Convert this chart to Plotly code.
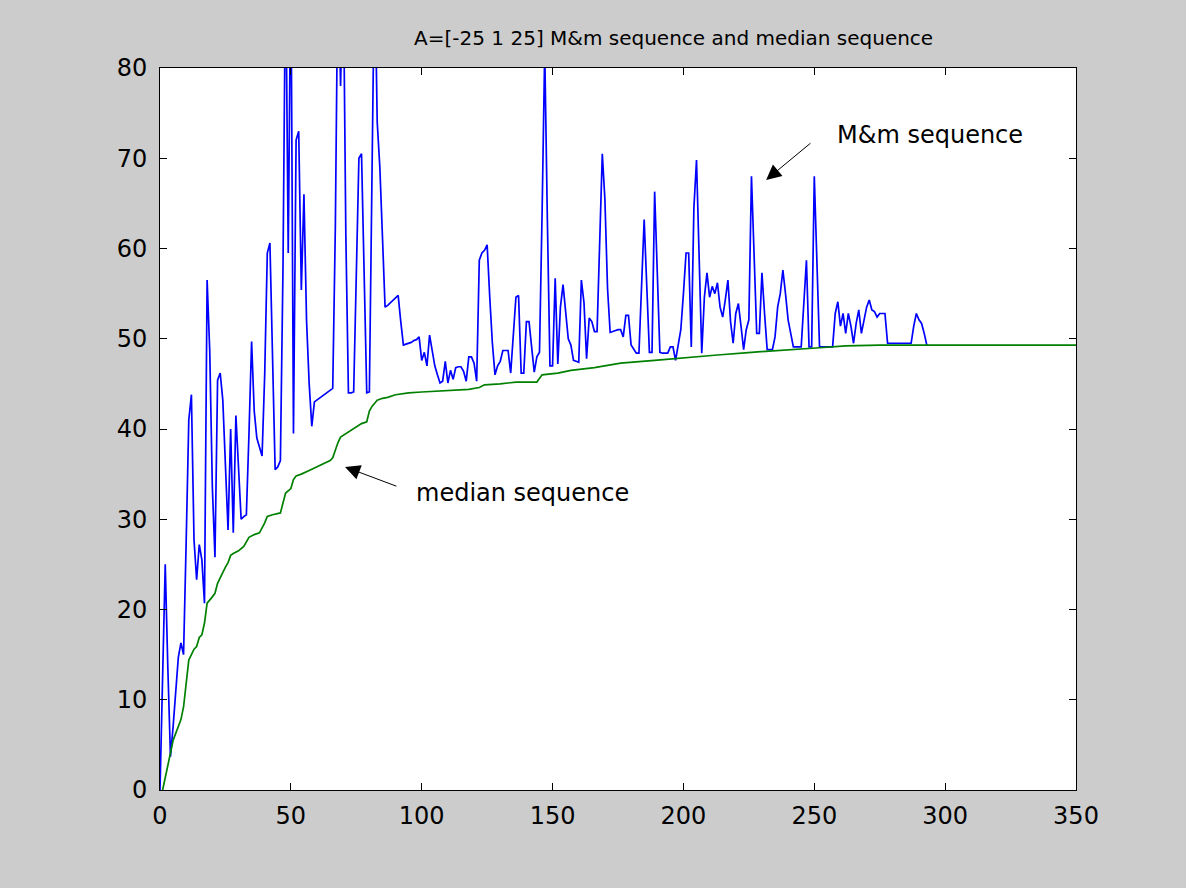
import plotly.graph_objects as go

# M&m sequence values (index n = 0..293)
mm_values = [
    0, 13, 25, 13.5, 3.7, 7, 11, 14.7, 16.3, 15,
    27.5, 41, 43.8, 27.7, 23.3, 27.2, 25.5, 20.7, 56.5, 48.7,
    33.6, 25.8, 45.4, 46.2, 43.2, 35.8, 28.8, 40, 28.5, 41.5,
    35.5, 30, 30.3, 30.5, 39.5, 49.7, 42, 39, 38, 37,
    46, 59.5, 60.6, 48, 35.5, 35.8, 36.5, 58, 92, 59.5,
    92, 39.5, 72, 73, 55.4, 66, 52, 45, 40.3, 43,
    43.2, 43.5, 43.7, 43.9, 44.1, 44.3, 44.5, 62.4, 92, 78,
    92, 61.7, 44, 44, 44.1, 57, 70, 70.5, 57, 44,
    44.1, 62, 92, 74, 69, 61.3, 53.5, 53.7, 54, 54.2,
    54.5, 54.8, 51.9, 49.3, 49.4, 49.5, 49.6, 49.8, 49.9, 50.2,
    47.6, 48.5, 47, 50.4, 48.5, 47, 46, 45.1, 45.3, 47.5,
    45.1, 46.5, 45.5, 46.8, 46.9, 46.9, 46.4, 45.3, 48, 48,
    47.3, 45.3, 58.7, 59.5, 59.8, 60.4, 54.6, 49.5, 46, 47,
    47.5, 48.7, 48.7, 48.7, 46.2, 50.4, 54.6, 54.8, 46.2, 46.2,
    51.9, 51.9, 49, 46.3, 48, 48.5, 64, 82, 63.4, 47,
    47, 56.7, 47.2, 53.5, 56, 52.8, 50, 49.3, 47.6, 47.5,
    47.4, 56.5, 54, 47.8, 52.3, 51.9, 50.8, 50.8, 60.2, 70.5,
    65.4, 55.6, 50.7, 50.8, 50.9, 51, 51, 50.2, 52.6, 52.6,
    49.3, 48.8, 48.4, 48.4, 55.8, 63.2, 55.8, 48.5, 48.5, 66.3,
    57.4, 48.5, 48.4, 48.4, 48.4, 49.1, 49.1, 47.6, 49.4, 51,
    55, 59.5, 59.5, 49.1, 64.5, 69.8, 59.1, 48.4, 54.6, 57.3,
    54.6, 55.8, 55, 56.2, 53.5, 52.4, 54.3, 56.5, 51.9, 49.5,
    52.8, 53.9, 51.4, 48.8, 51, 52.1, 68, 59.5, 50.6, 50.6,
    57.3, 52.8, 48.8, 48.8, 48.8, 50.2, 53.5, 55, 57.6, 55,
    52.1, 50.6, 49.1, 49.1, 49.1, 49.1, 53.9, 58.7, 49.1, 49.1,
    68, 58.3, 49.1, 49.1, 49.1, 49.1, 49.1, 49.1, 52.8, 54.1,
    51.4, 52.8, 50.6, 52.8, 51.4, 49.5, 51.7, 53.2, 50.6, 52.1,
    53.5, 54.3, 53.2, 53, 52.4, 52.8, 52.8, 52.8, 49.5, 49.5,
    49.5, 49.5, 49.5, 49.5, 49.5, 49.5, 49.5, 49.5, 51.4, 52.8,
    52.1, 51.7, 50.6, 49.3,
]
mm_n = list(range(len(mm_values)))

# Median sequence (read at breakpoints)
med_n = [1, 2, 3, 4, 5, 6, 7, 8, 9, 10, 11, 12, 13, 14, 15, 16, 17, 18, 19, 20,
         21, 22, 23, 24, 25, 26, 27, 28, 30, 32, 33, 34, 36, 38, 40, 41, 43, 46, 47, 48,
         50, 51, 52, 54, 57, 60, 63, 65, 66, 67, 68, 69, 71, 73, 75, 77, 79, 80, 81, 83,
         85, 87, 90, 95, 100, 105, 110, 118, 122, 124, 130, 136, 144, 146, 152, 157, 166, 176, 189, 196,
         204, 213, 226, 235, 252, 262, 275, 350]
med_v = [0, 1.5, 2.6, 4.1, 5.5, 6.3, 7, 7.8, 9.2, 12.2, 14.4, 15, 15.6, 15.9, 16.9, 17.2, 18.5, 20.7, 21, 21.4,
         21.8, 22.9, 23.5, 24.2, 24.7, 25.2, 26, 26.2, 26.5, 27, 27.5, 28, 28.3, 28.5, 29.6, 30.3, 30.5, 30.7, 31.8, 32.9,
         33.4, 34.4, 34.8, 35, 35.4, 35.8, 36.2, 36.5, 36.8, 37.7, 38.5, 39.1, 39.5, 39.8, 40.2, 40.6, 40.8, 42, 42.5, 43.2,
         43.4, 43.5, 43.8, 44, 44.1, 44.2, 44.3, 44.4, 44.6, 44.9, 45.0, 45.2, 45.2, 46, 46.2, 46.5, 46.8, 47.3, 47.6, 47.8,
         48, 48.2, 48.5, 48.7, 49, 49.2, 49.3, 49.3]

x_ticks = [0, 50, 100, 150, 200, 250, 300, 350]
y_ticks = [0, 10, 20, 30, 40, 50, 60, 70, 80]

title_text = "A=[-25 1 25] M&m sequence and median sequence"
font_family = "DejaVu Sans, Liberation Sans, sans-serif"

fig = go.Figure()
fig.add_trace(go.Scatter(x=mm_n, y=mm_values, mode="lines",
                         line=dict(color="rgb(0,0,255)", width=1.7), showlegend=False))
fig.add_trace(go.Scatter(x=med_n, y=med_v, mode="lines",
                         line=dict(color="rgb(0,128,0)", width=1.7), showlegend=False))

# arrows
fig.add_annotation(x=231.6, y=67.6, ax=249.1, ay=71.8, xref="x", yref="y",
                   axref="x", ayref="y", text="", showarrow=True,
                   arrowhead=2, arrowsize=3, arrowwidth=1, arrowcolor="black")
fig.add_annotation(x=257.9, y=72.6, xref="x", yref="y", text="M&m sequence",
                   showarrow=False, xanchor="left", yanchor="middle",
                   font=dict(family=font_family, size=24, color="black"))
fig.add_annotation(x=70.7, y=35.8, ax=90.9, ay=33.6, xref="x", yref="y",
                   axref="x", ayref="y", text="", showarrow=True,
                   arrowhead=2, arrowsize=3, arrowwidth=1, arrowcolor="black")
fig.add_annotation(x=97.0, y=32.9, xref="x", yref="y", text="median sequence",
                   showarrow=False, xanchor="left", yanchor="middle",
                   font=dict(family=font_family, size=24, color="black"))

axis_common = dict(showgrid=False, zeroline=False, showline=True, linecolor="black",
                   linewidth=1, mirror="ticks", ticks="inside", ticklen=7,
                   tickcolor="black", tickwidth=1,
                   tickfont=dict(family=font_family, size=24, color="black"))

fig.update_xaxes(range=[0, 350], tickvals=x_ticks, ticktext=[str(v) for v in x_ticks],
                 ticklabelstandoff=4, **axis_common)
fig.update_yaxes(range=[0, 80], tickvals=y_ticks, ticktext=[str(v) for v in y_ticks],
                 ticklabelstandoff=7, **axis_common)

fig.update_layout(
    width=1186, height=888,
    margin=dict(l=160, r=110, t=68, b=98),
    paper_bgcolor="rgb(204,204,204)",
    plot_bgcolor="white",
    title=dict(text=title_text, x=0.568, xanchor="center", y=0.957, yanchor="middle",
               font=dict(family=font_family, size=20, color="black")),
)

fig.write_html("out.html")
